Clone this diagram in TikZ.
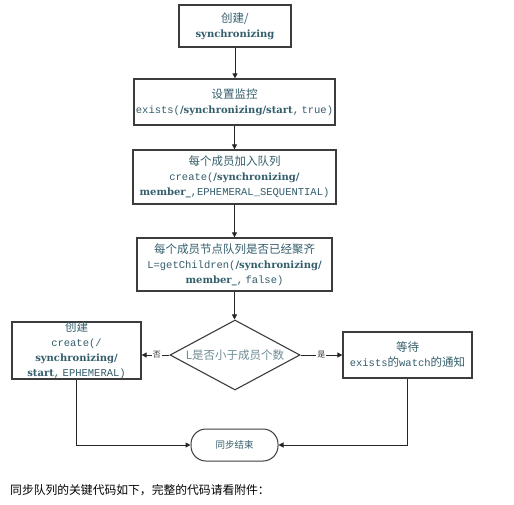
\documentclass[tikz,border=0pt]{standalone}
\usepackage{fontspec}
\setmainfont{Liberation Serif}
\setmonofont{Liberation Mono}
\newfontfamily\cjk{Noto Sans CJK SC}
\newfontfamily\bserif{DejaVu Serif}[UprightFont=* Bold]
\usetikzlibrary{shapes.geometric,arrows.meta}
\definecolor{txt}{RGB}{52,94,108}
\definecolor{txtlight}{RGB}{110,140,150}
\definecolor{border}{RGB}{60,60,60}
\newcommand{\cn}[1]{{\cjk\fontsize{11.5}{15}\selectfont #1}}
\newcommand{\cd}[1]{{\ttfamily\fontsize{10.5}{15}\selectfont #1}}
\newcommand{\bp}[1]{{\bserif\fontsize{10}{15}\selectfont #1}}
\begin{document}
\begin{tikzpicture}[x=1pt,y=-1pt,
  box/.style={draw=border,line width=1.3pt,fill=white,inner sep=0pt,align=center,text=txt,
    font=\fontsize{10.5}{15}\selectfont},
  arr/.style={-{Triangle[length=5pt,width=5pt]},line width=1pt,draw=black!85},
  lab/.style={fill=white,inner sep=1pt,font=\cjk\fontsize{8}{9}\selectfont,text=black!80}]
\useasboundingbox[fill=white] (0,0) rectangle (514,504);

\node[box,minimum width=112pt,minimum height=42pt] (b1) at (235,26)
  {\cn{创建/}\\\bp{synchronizing}};
\node[box,minimum width=201pt,minimum height=46pt] (b2) at (234.5,102)
  {\cn{设置监控}\\\cd{exists(}\bp{/synchronizing/start}\cd{,\hspace{2.5pt}true)}};
\node[box,minimum width=203pt,minimum height=54pt] (b3) at (234.5,177)
  {\cn{每个成员加入队列}\\\cd{create(}\bp{/synchronizing/}\\\bp{member\_}\cd{,EPHEMERAL\_SEQUENTIAL)}};
\node[box,minimum width=195pt,minimum height=53pt] (b4) at (234.5,264.5)
  {\cn{每个成员节点队列是否已经聚齐}\\\cd{L=getChildren(}\bp{/synchronizing/}\\\bp{member\_}\cd{,\hspace{2.5pt}false)}};
\node[draw=border,line width=1.1pt,diamond,aspect=1.857,inner sep=0pt,minimum width=130pt,minimum height=70pt,
  text=txtlight,font=\cjk\fontsize{11.5}{12}\selectfont] (dia) at (235,355) {L是否小于成员个数};
\node[box,minimum width=129pt,minimum height=55pt] (left) at (76.5,350.5)
  {\cn{创建}\\\cd{create(/}\\\bp{synchronizing/}\\\bp{start}\cd{,\hspace{2.5pt}EPHEMERAL)}};
\node[box,minimum width=129pt,minimum height=46pt] (right) at (407.5,355)
  {\cn{等待}\\\cd{exists}\cn{的}\cd{watch}\cn{的通知}};
\node[draw=border,line width=1pt,rounded corners=15pt,minimum width=87pt,minimum height=32pt,
  inner sep=0pt,text=txt,font=\cjk\fontsize{9.5}{10}\selectfont] (term) at (234.5,445) {同步结束};

\node[anchor=base west,inner sep=0pt,font=\cjk\fontsize{11.8}{13}\selectfont] (note) at (10,494)
  {同步队列的关键代码如下，完整的代码请看附件：};

\draw[arr] (b1.south) -- (b1.south |- b2.north);
\draw[arr] (b2.south) -- (b2.south |- b3.north);
\draw[arr] (b3.south) -- (b3.south |- b4.north);
\draw[arr] (b4.south) -- (b4.south |- dia.north);
\draw[arr] (dia.west) -- node[lab,pos=0.45]{否} (dia.west -| left.east);
\draw[arr] (dia.east) -- node[lab,pos=0.5]{是} (dia.east -| right.west);
\draw[arr] (left.south) |- (term.west);
\draw[arr] (right.south) |- (term.east);
\end{tikzpicture}
\end{document}
